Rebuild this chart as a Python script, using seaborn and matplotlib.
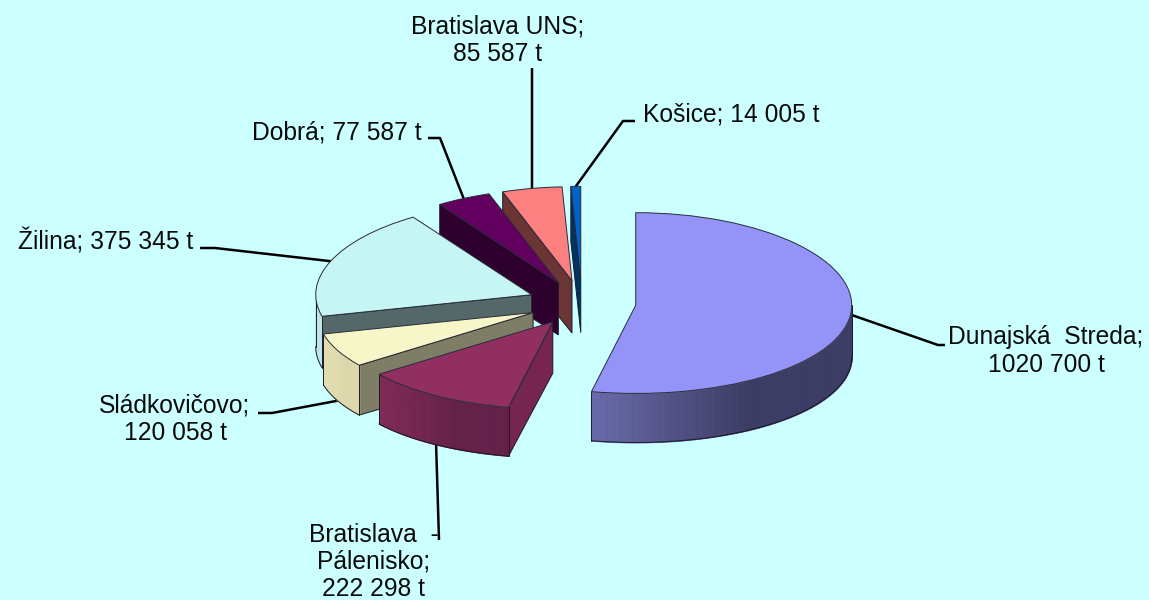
import numpy as np
import matplotlib
matplotlib.use('Agg')
import matplotlib.pyplot as plt
import matplotlib.colors as mcolors
import seaborn as sns

nazvy = ['Dunajská Streda', 'Bratislava - Pálenisko', 'Sládkovičovo', 'Žilina',
         'Dobrá', 'Bratislava UNS', 'Košice']
hodnoty = [1020700, 222298, 120058, 375345, 77587, 85587, 14005]
popisky = ['Dunajská  Streda;\n1020 700 t', 'Bratislava  -\nPálenisko;\n222 298 t',
           'Sládkovičovo;\n120 058 t', 'Žilina; 375 345 t', 'Dobrá; 77 587 t',
           'Bratislava UNS;\n85 587 t', 'Košice; 14 005 t']

farby_vrch = ['#9494F8', '#913060', '#F6F6C8', '#C6F6F4', '#620060', '#FC8080', '#0062C2']
farby_rez = ['#3E3E66', '#752550', '#7E7E66', '#556869', '#2E002E', '#6B3534', '#00335F']
farby_l = ['#6A6AAA', '#802A58', '#E2DEB2', '#BFE6E6', '#2E002E', '#6B3534', '#00448A']
farby_p = ['#3C3C64', '#642048', '#DCD8AC', '#BFE6E6', '#2E002E', '#6B3534', '#00335F']

# rozlozenie
sns.set_theme(style='white', font='Liberation Sans')
BG = '#CCFFFF'
CX, CY = 582, 303   # stred kolaca v pixeloch
RX, RY = 216, 90.5  # polosi elipsy
PERSP = 0.025       # vzadu o trochu sirsie nez vpredu
HLBKA = 0.58
EXPLODE = 0.25

poradie = [5, 4, 6, 3, 2, 1, 0]   # maliarov algoritmus, odzadu dopredu
text_pos = [(1046, 351), (374, 562), (175, 419), (106, 242), (337, 132), (498, 40), (731, 114)]
lomy = [[(938, 345), (945, 345)], [(439, 540)], [(272, 413), (258, 413)],
        [(215, 248), (200, 248)], [(440, 138), (428, 138)], [(532, 68)],
        [(623, 121), (635, 121)]]


def persp(y):
    return y + PERSP * np.asarray(y) ** 2


def persp_inv(v):
    return (-1 + np.sqrt(np.maximum(1 + 4 * PERSP * np.asarray(v), 0))) / (2 * PERSP)


def px(x, y):
    return (x - CX) / RX, persp_inv((CY - y) / RY)


fig, ax = plt.subplots(figsize=(11.49, 6), dpi=100)
fig.patch.set_facecolor(BG)
ax.set_position([0, 0, 1, 1])

wedges, _ = ax.pie(hodnoty, colors=sns.color_palette(farby_vrch), startangle=90,
                   counterclock=False, explode=[EXPLODE] * len(hodnoty),
                   wedgeprops={'edgecolor': '#2a2a3a', 'linewidth': 0.7})
ax.set_aspect('auto')
ax.set_yscale('function', functions=(persp, persp_inv))
ax.set_xlim((0 - CX) / RX, (1149 - CX) / RX)
ax.set_ylim(persp_inv((CY - 600) / RY), persp_inv(CY / RY))
ax.axis('off')

uhly = np.cumsum([0] + hodnoty) / sum(hodnoty) * 2 * np.pi
ciara = {'color': '#1a1a2a', 'linewidth': 0.7}

for z, i in enumerate(poradie):
    t0, t1 = uhly[i], uhly[i + 1]
    mid = (t0 + t1) / 2
    ox, oy = EXPLODE * np.sin(mid), EXPLODE * np.cos(mid)
    zz = 3 + z * 3

    # rezna stena
    if t0 > np.pi:
        rx, ry = ox + np.sin(t0), oy + np.cos(t0)
        ax.fill([ox, rx, rx, ox], [oy, ry, ry - HLBKA, oy - HLBKA],
                facecolor=farby_rez[i], edgecolor='#1a1a2a', linewidth=0.7, zorder=zz)

    # vonkajsia stena s prechodom
    a, b = max(t0, np.pi / 2), min(t1, 3 * np.pi / 2)
    if b > a:
        t = np.linspace(a, b, 60)
        x = ox + np.sin(t)
        y = oy + np.cos(t)
        l = np.array(mcolors.to_rgb(farby_l[i]))
        p = np.array(mcolors.to_rgb(farby_p[i]))
        sirka = max(x.max() - x.min(), 1e-6)
        for k in range(len(t) - 1):
            f = min(((x[k] + x[k + 1]) / 2 - x.min()) / (0.6 * sirka), 1)
            ax.fill_between(x[k:k + 2], y[k:k + 2], y[k:k + 2] - HLBKA,
                            color=l + (p - l) * f, linewidth=0.6, antialiased=False, zorder=zz + 1)
        ax.plot(x, y - HLBKA, zorder=zz + 1, **ciara)
        ax.plot([x[0], x[0]], [y[0], y[0] - HLBKA], zorder=zz + 1, **ciara)
        ax.plot([x[-1], x[-1]], [y[-1], y[-1] - HLBKA], zorder=zz + 1, **ciara)

    wedges[i].set_zorder(zz + 2)

# odkazove ciary a popisky
for i, mid in enumerate((uhly[:-1] + uhly[1:]) / 2):
    ax_x = (1 + EXPLODE) * np.sin(mid)
    ax_y = (1 + EXPLODE) * np.cos(mid)
    if np.cos(mid) < -0.3:
        ax_y -= HLBKA
    body = [px(*b) for b in lomy[i]]
    xs = [ax_x] + [b[0] for b in body]
    ys = [ax_y] + [b[1] for b in body]
    ax.plot(xs, ys, color='black', linewidth=1.8, solid_capstyle='butt', zorder=1)
    tx, ty = px(*text_pos[i])
    ax.text(tx, ty, popisky[i], ha='center', va='center', fontsize=17.7,
            color='#0a0a0a', linespacing=1.17, zorder=40)

fig.savefig('out.png', dpi=100, facecolor=BG)
